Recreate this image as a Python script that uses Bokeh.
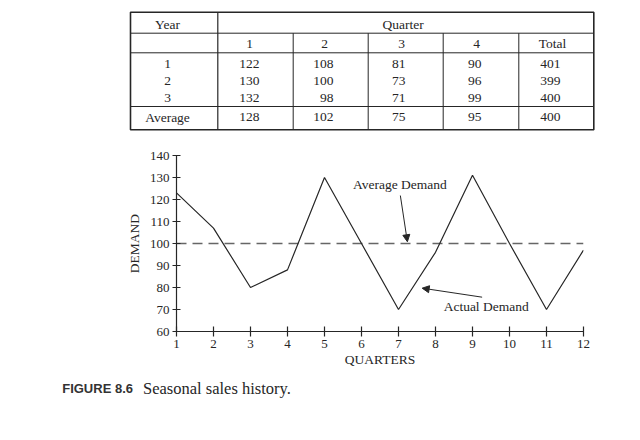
from bokeh.plotting import figure
from bokeh.models import Range1d, FixedTicker, Label, Arrow, NormalHead
from bokeh.layouts import column
from bokeh.embed import file_html
from bokeh.resources import INLINE
from bokeh.core.properties import value

# ---------------- data ----------------
year_labels = ["1", "2", "3"]
quarter_labels = ["1", "2", "3", "4", "Total"]
year1_row = [122, 108, 81, 90, 401]
year2_row = [130, 100, 73, 96, 399]
year3_row = [132, 98, 71, 99, 400]
average_row = [128, 102, 75, 95, 400]

quarters = [1, 2, 3, 4, 5, 6, 7, 8, 9, 10, 11, 12]
demand = [123, 107, 80, 88, 130, 100, 70, 96, 131, 100, 70, 97]
avg_demand = 100
y_ticks = [60, 70, 80, 90, 100, 110, 120, 130, 140]

# ---------------- style ----------------
SERIF = "Liberation Serif"
SANS = "Liberation Sans"
INK = "#262626"
W = 624
TH, CH, KH = 148, 228, 56  # table / chart / caption heights


def blank(fig):
    fig.axis.visible = False
    fig.grid.visible = False
    fig.outline_line_color = None
    fig.background_fill_color = "white"
    fig.border_fill_color = "white"


# ---------------- table ----------------
t = figure(width=W, height=TH, x_range=Range1d(0, W), y_range=Range1d(TH, 0),
           output_backend="svg", toolbar_location=None, min_border=0, frame_align=False)
blank(t)

col_x = [130, 217.3, 292.7, 367.7, 442.7, 518.3, 593.3]
row_y = [11.7, 32.7, 52.3, 106, 129.3]

t.segment(x0=[col_x[0]] * 3, y0=row_y[1:4], x1=[col_x[-1]] * 3, y1=row_y[1:4],
          line_color=INK, line_width=1)
t.segment(x0=col_x[2:6], y0=[row_y[1]] * 4, x1=col_x[2:6], y1=[row_y[-1]] * 4,
          line_color=INK, line_width=1)
t.segment(x0=[col_x[1]], y0=[row_y[0]], x1=[col_x[1]], y1=[row_y[-1]],
          line_color=INK, line_width=1.2)
t.quad(left=[col_x[0]], right=[col_x[-1]], top=[row_y[0]], bottom=[row_y[-1]],
       fill_color=None, line_color=INK, line_width=1.6)

txt = dict(text_font=value(SERIF), text_font_size="13.5px", text_color=INK,
           text_baseline="middle")
year_cx = 167
num_right = [259, 333, 405, 481, 560]
head_cx = [249, 324, 401, 476, 552]
data_rows_y = [63.3, 80.3, 97.3]

t.text(x=[year_cx], y=[24], text=["Year"], text_align="center", **txt)
t.text(x=[402.6], y=[24], text=["Quarter"], text_align="center", **txt)
t.text(x=head_cx, y=[43] * 5, text=quarter_labels, text_align="center", **txt)
t.text(x=[year_cx] * 3, y=data_rows_y, text=year_labels, text_align="center", **txt)
for ry, row in zip(data_rows_y, [year1_row, year2_row, year3_row]):
    t.text(x=num_right, y=[ry] * 5, text=[str(v) for v in row], text_align="right", **txt)
t.text(x=[year_cx], y=[116.7], text=["Average"], text_align="center", **txt)
t.text(x=num_right, y=[116.7] * 5, text=[str(v) for v in average_row], text_align="right", **txt)

# ---------------- chart ----------------
p = figure(width=W, height=CH, x_range=Range1d(1, 12), y_range=Range1d(60, 140),
           output_backend="svg", toolbar_location=None, frame_align=False,
           min_border_left=176, min_border_right=W - 583, min_border_top=155 - TH,
           min_border_bottom=TH + CH - 331)
p.grid.visible = False
p.outline_line_color = None
p.background_fill_color = "white"
p.border_fill_color = "white"

p.line(quarters, [avg_demand] * len(quarters), line_color="#666666", line_width=1.5,
       line_dash="10 6")
p.line(quarters, demand, line_color=INK, line_width=1.2)

p.xaxis.ticker = FixedTicker(ticks=quarters)
p.yaxis.ticker = FixedTicker(ticks=y_ticks)
p.xaxis.axis_label = "QUARTERS"
p.yaxis.axis_label = "DEMAND"
for ax in (p.xaxis, p.yaxis):
    ax.axis_line_color = INK
    ax.axis_line_width = 1.2
    ax.major_tick_line_color = INK
    ax.major_tick_line_width = 1.2
    ax.minor_tick_line_color = None
    ax.major_label_text_font = SERIF
    ax.major_label_text_font_size = "13px"
    ax.major_label_text_color = INK
    ax.axis_label_text_font = SERIF
    ax.axis_label_text_font_size = "13.5px"
    ax.axis_label_text_font_style = "normal"
    ax.axis_label_text_color = INK
p.xaxis.major_tick_in = 5
p.xaxis.major_tick_out = 5
p.xaxis.major_label_standoff = 3
p.xaxis.axis_label_standoff = 1
p.yaxis.major_tick_in = 4
p.yaxis.major_tick_out = 4
p.yaxis.major_label_standoff = 3
p.yaxis.axis_label_standoff = 5

p.add_layout(Label(x=5.77, y=126.7, text="Average Demand", text_font=SERIF,
                   text_font_size="13.5px", text_color=INK, text_baseline="middle"))
p.add_layout(Arrow(end=NormalHead(size=7, fill_color=INK, line_color=INK),
                   x_start=7.05, y_start=121.8, x_end=7.24, y_end=100.8,
                   line_color=INK, line_width=1))
p.add_layout(Label(x=8.22, y=71.5, text="Actual Demand", text_font=SERIF,
                   text_font_size="13.5px", text_color=INK, text_baseline="middle"))
p.add_layout(Arrow(end=NormalHead(size=7, fill_color=INK, line_color=INK),
                   x_start=9.26, y_start=75.6, x_end=7.64, y_end=79.7,
                   line_color=INK, line_width=1))

# ---------------- caption ----------------
top_c = TH + CH
c = figure(width=W, height=KH, x_range=Range1d(0, W), y_range=Range1d(top_c + KH, top_c),
           output_backend="svg", toolbar_location=None, min_border=0, frame_align=False)
blank(c)
c.add_layout(Label(x=61.7, y=388, text="FIGURE 8.6", text_font=SANS, text_font_size="13px",
                   text_font_style="bold", text_color="#333333", text_baseline="middle"))
c.add_layout(Label(x=142.5, y=388, text="Seasonal sales history.", text_font=SERIF,
                   text_font_size="16.5px", text_color=INK, text_baseline="middle"))

layout = column(t, p, c, spacing=0)
open("out.html", "w").write(file_html(layout, INLINE))
